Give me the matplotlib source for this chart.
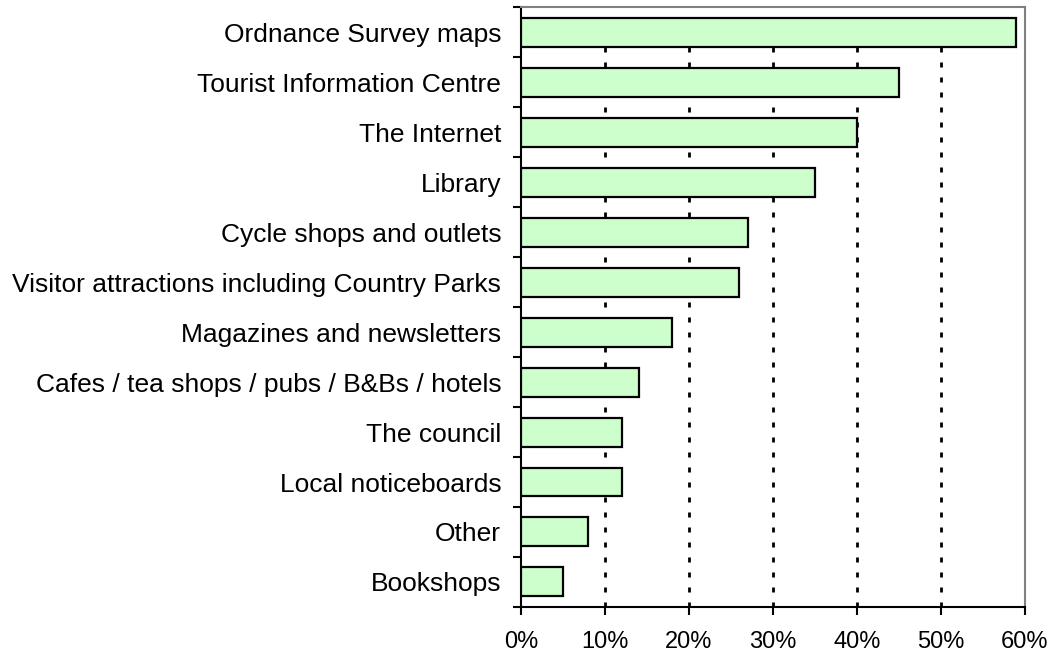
import matplotlib.pyplot as plt
from matplotlib.ticker import FuncFormatter, FixedLocator

# Fuentes de información (de arriba hacia abajo en el gráfico)
categorias = ["Ordnance Survey maps", "Tourist Information Centre", "The Internet",
              "Library", "Cycle shops and outlets",
              "Visitor attractions including Country Parks",
              "Magazines and newsletters", "Cafes / tea shops / pubs / B&Bs / hotels",
              "The council", "Local noticeboards", "Other", "Bookshops"]
porcentajes = [59, 45, 40, 35, 27, 26, 18, 14, 12, 12, 8, 5]
ticks_x = [0, 10, 20, 30, 40, 50, 60]

plt.rcParams['font.family'] = ['Liberation Sans', 'DejaVu Sans']

fig = plt.figure(figsize=(10.53, 6.51), dpi=100)
ax = fig.add_axes([0.495, 0.0676, 0.478, 0.9216])

n = len(categorias)
pos = list(range(n))[::-1]
ax.barh(pos, porcentajes, height=0.58, color="#CCFFCC", edgecolor="black",
        linewidth=1.6, zorder=3)

ax.set_xlim(0, 60)
ax.set_ylim(-0.5, n - 0.5)
ax.set_xticks(ticks_x)
ax.xaxis.set_major_formatter(FuncFormatter(lambda v, p: f"{v:.0f}%"))

# etiquetas en el centro, ticks entre categorías
ax.set_yticks(pos)
ax.set_yticklabels(categorias)
ax.tick_params(axis="y", which="major", length=0, pad=14.4, labelsize=19)
ax.yaxis.set_minor_locator(FixedLocator([i - 0.5 for i in range(n + 1)]))
ax.tick_params(axis="y", which="minor", length=6, width=1.5, direction="out")
ax.tick_params(axis="x", length=6, width=1.5, direction="out", labelsize=17, pad=11)

for v in ticks_x[1:-1]:
    ax.axvline(v, color="black", linewidth=2, linestyle=(0, (1.8, 3.6)), zorder=1)

ax.spines["left"].set_linewidth(1.5)
ax.spines["bottom"].set_linewidth(1.5)
ax.spines["top"].set_color("#808080")
ax.spines["right"].set_color("#808080")
ax.spines["top"].set_linewidth(1.5)
ax.spines["right"].set_linewidth(1.5)

plt.savefig("out.png", dpi=100)
